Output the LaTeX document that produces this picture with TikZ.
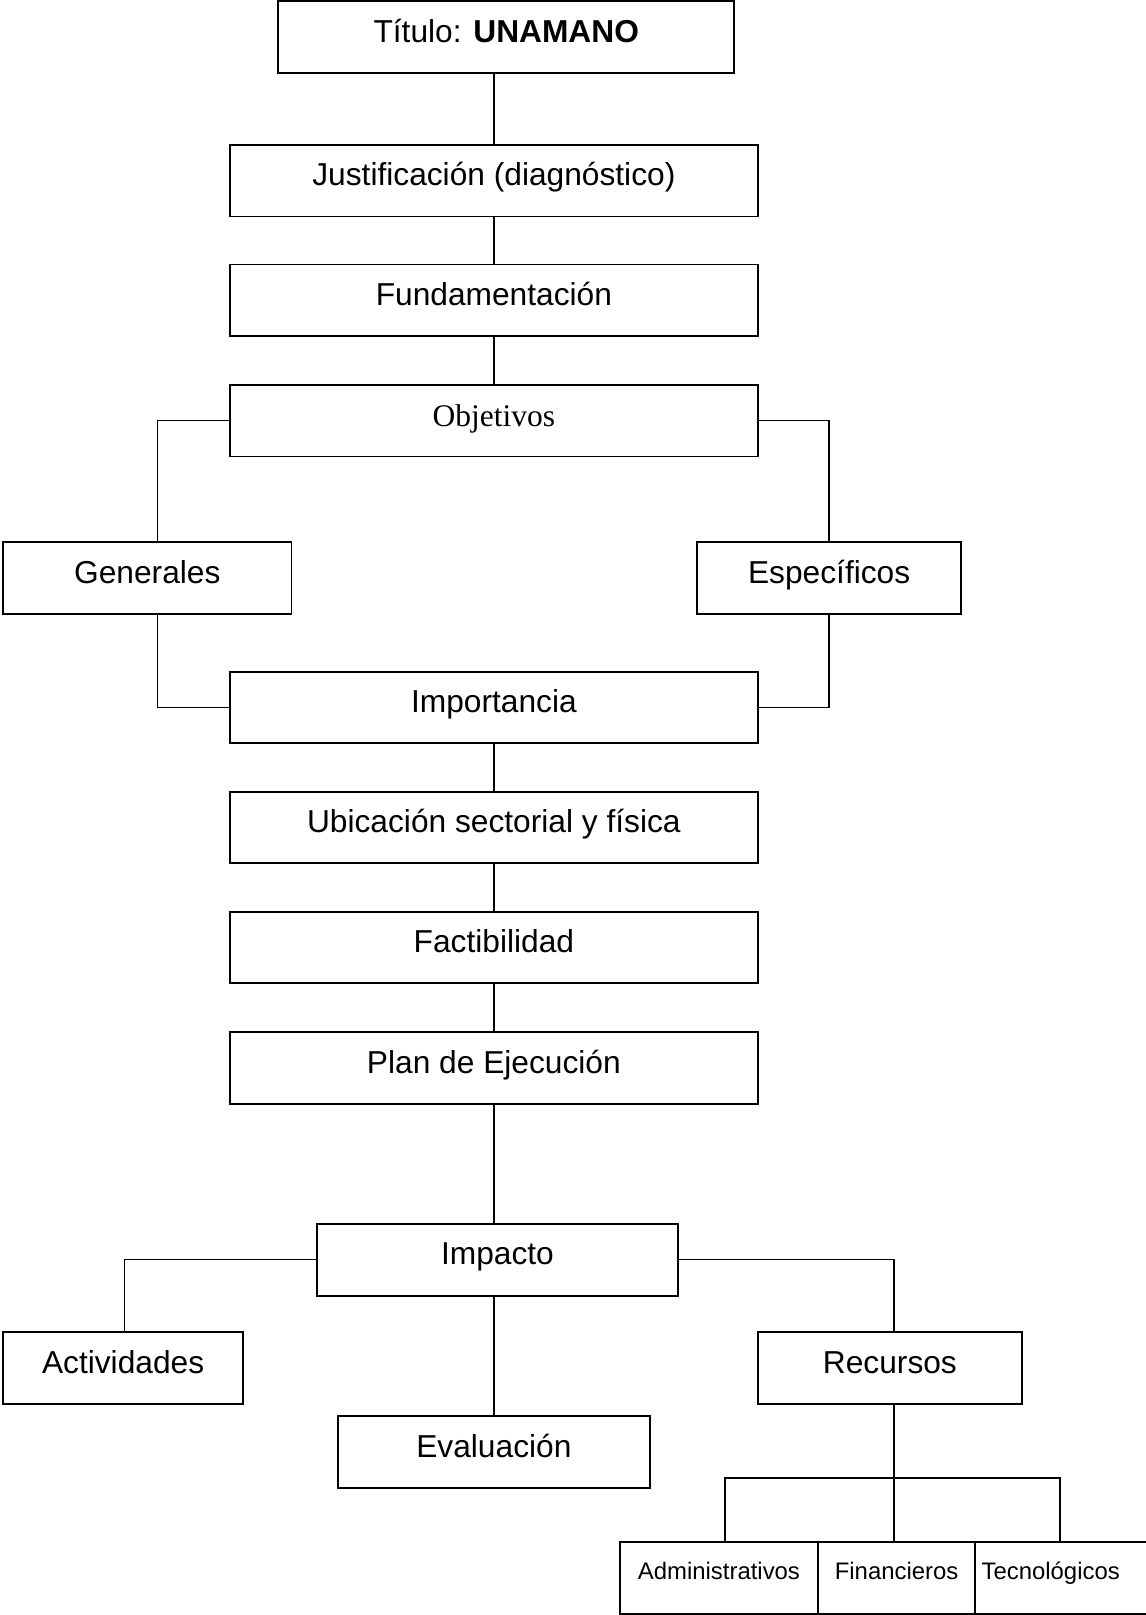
\documentclass[tikz,border=0pt]{standalone}
\usepackage{fontspec}
\setmainfont{Liberation Sans}
\newfontfamily\serifobj{Liberation Serif}
\newcommand{\spx}{1.0297pt}
\tikzset{
  box/.style={draw, line width=1.8pt, rectangle, inner sep=0pt, align=center,
    font=\fontsize{31.7}{36}\selectfont, text height=23pt, text depth=12.6pt},
  wbox/.style={box, minimum width=513*\spx, minimum height=69.5*\spx},
  smallbox/.style={box, font=\fontsize{23.9}{28}\selectfont, text height=17pt, text depth=14.3pt,
    minimum height=70*\spx},
  conn/.style={line width=1.4pt}
}
\begin{document}
\begin{tikzpicture}[x=1.0297pt,y=-1.0297pt]
\useasboundingbox (0,0) rectangle (1112,1568);
% main column
\node[box, minimum width=443*\spx, minimum height=70*\spx] (title) at (491.5,36) {Título: \textbf{UNAMANO}};
\node[wbox] (just) at (479.5,175.5) {Justificación (diagnóstico)};
\node[wbox] (fund) at (479.5,291.5) {Fundamentación};
\node[wbox, font=\serifobj\fontsize{31.5}{36}\selectfont, text height=21pt, text depth=9.4pt] (obj) at (479.5,408.5) {Objetivos};
\node[box, minimum width=280*\spx, minimum height=70*\spx] (gen) at (143,561) {Generales};
\node[box, minimum width=256*\spx, minimum height=70*\spx] (esp) at (805,561) {Específicos};
\node[wbox] (imp) at (479.5,687) {Importancia};
\node[wbox] (ubi) at (479.5,803.5) {Ubicación sectorial y física};
\node[wbox] (fac) at (479.5,920) {Factibilidad};
\node[wbox] (plan) at (479.5,1037) {Plan de Ejecución};
% lower part
\node[box, minimum width=350*\spx, minimum height=70*\spx] (impacto) at (483,1223) {Impacto};
\node[box, minimum width=233*\spx, minimum height=70*\spx] (act) at (119.5,1328) {Actividades};
\node[box, minimum width=303*\spx, minimum height=70*\spx] (eva) at (479.5,1410) {Evaluación};
\node[box, minimum width=256*\spx, minimum height=70*\spx] (rec) at (864,1328) {Recursos};
\node[smallbox, minimum width=192*\spx] (adm) at (698,1532) {Administrativos};
\node[smallbox, minimum width=153*\spx] (fin) at (870.5,1532) {Financieros};
\node[smallbox, minimum width=178*\spx, text width=166*\spx, align=left] (tec) at (1036,1532) {Tecnológicos};
% junction coordinates
\coordinate (gx) at (153,0);
\coordinate (rx) at (868,0);
\coordinate (ax) at (121,0);
\coordinate (ca) at (704,0);
\coordinate (ct) at (1029,0);
\coordinate (bj) at (868,1435);
% connectors
\draw[conn] (just.north) -- (just.north |- title.south);
\draw[conn] (just.south) -- (fund.north);
\draw[conn] (fund.south) -- (obj.north);
\draw[conn] (obj.west) -| (gen.north -| gx);
\draw[conn] (obj.east) -| (esp.north);
\draw[conn] (gen.south -| gx) |- (imp.west);
\draw[conn] (esp.south) |- (imp.east);
\draw[conn] (imp.south) -- (ubi.north);
\draw[conn] (ubi.south) -- (fac.north);
\draw[conn] (fac.south) -- (plan.north);
\draw[conn] (plan.south) -- (plan.south |- impacto.north);
\draw[conn] (impacto.west) -| (act.north -| ax);
\draw[conn] (impacto.east) -| (rec.north -| rx);
\draw[conn] (eva.north) -- (eva.north |- impacto.south);
\draw[conn] (rec.south -| rx) -- (fin.north -| rx);
\draw[conn] (adm.north -| ca) |- (bj) -| (tec.north -| ct);
\end{tikzpicture}
\end{document}
